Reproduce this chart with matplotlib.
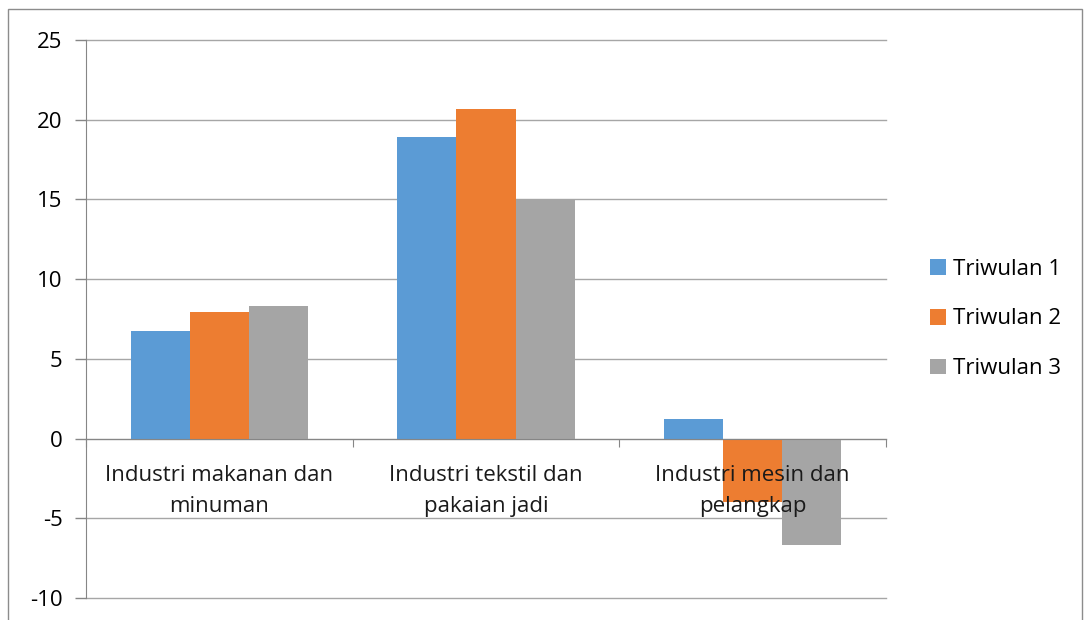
import matplotlib
matplotlib.use('Agg')
import matplotlib.pyplot as plt
from matplotlib.patches import Rectangle, Patch
import numpy as np

plt.rcParams['font.family'] = ['Open Sans', 'DejaVu Sans']

categories = ["Industri makanan dan\nminuman", "Industri tekstil dan\npakaian jadi", "Industri mesin dan\npelangkap"]
series = ["Triwulan 1", "Triwulan 2", "Triwulan 3"]
triwulan_1 = [6.75, 18.9, 1.25]
triwulan_2 = [7.95, 20.7, -4.0]
triwulan_3 = [8.3, 15.05, -6.7]
colors = ['#5B9BD5', '#ED7D31', '#A5A5A5']
yticks = [-10, -5, 0, 5, 10, 15, 20, 25]

W, H = 1088, 620
FS = 16
fig = plt.figure(figsize=(W / 100, H / 100), dpi=100)
fig.patch.set_facecolor('white')
# outer chart frame
fig.patches.append(Rectangle((8 / W, -0.05), (1082 - 8) / W, 1.05 - 9 / H,
                             transform=fig.transFigure, fill=False,
                             edgecolor='#8c8c8c', linewidth=1.0))

ax = fig.add_axes([86 / W, 1 - 598 / H, 800 / W, 558 / H])
x = np.arange(len(categories))
w = 0.222
for k, vals in enumerate([triwulan_1, triwulan_2, triwulan_3]):
    ax.bar(x + (k - 1) * w, vals, w, color=colors[k], zorder=2, label=series[k])

ax.set_xlim(-0.5, 2.5)
ax.set_ylim(-10, 25)
ax.set_yticks(yticks)
ax.set_yticklabels([str(t) for t in yticks], fontsize=FS)
ax.tick_params(axis='y', length=8, width=1, color='#868686', pad=9)
ax.yaxis.grid(True, color='#a6a6a6', linewidth=1, zorder=0)
for gl in ax.get_ygridlines():
    gl.set_clip_on(False)
ax.set_axisbelow(True)

for s in ['top', 'right']:
    ax.spines[s].set_visible(False)
ax.spines['left'].set_color('#868686')
ax.spines['bottom'].set_position(('data', 0))
ax.spines['bottom'].set_color('#868686')
ax.spines['bottom'].set_zorder(3)

ax.set_xticks([-0.5, 0.5, 1.5, 2.5])
ax.set_xticklabels([])
ax.tick_params(axis='x', which='major', length=6, color='#868686')

# category labels sit just under the zero line, drawn over the bars
for xi, cat in zip(x, categories):
    ax.annotate(cat, (xi, 0), xytext=(0, -19), textcoords='offset points',
                ha='center', va='top', fontsize=FS, linespacing=1.6,
                color='#1a1a1a', zorder=5, annotation_clip=False)

handles = [Patch(facecolor=c, edgecolor='none') for c in colors]
fig.legend(handles, series, loc='center left', bbox_to_anchor=(910 / W, 1 - 319 / H),
           frameon=False, fontsize=FS, handlelength=0.7, handleheight=0.7,
           handletextpad=0.35, labelspacing=1.3)

fig.savefig('out.png', dpi=100, facecolor='white')
